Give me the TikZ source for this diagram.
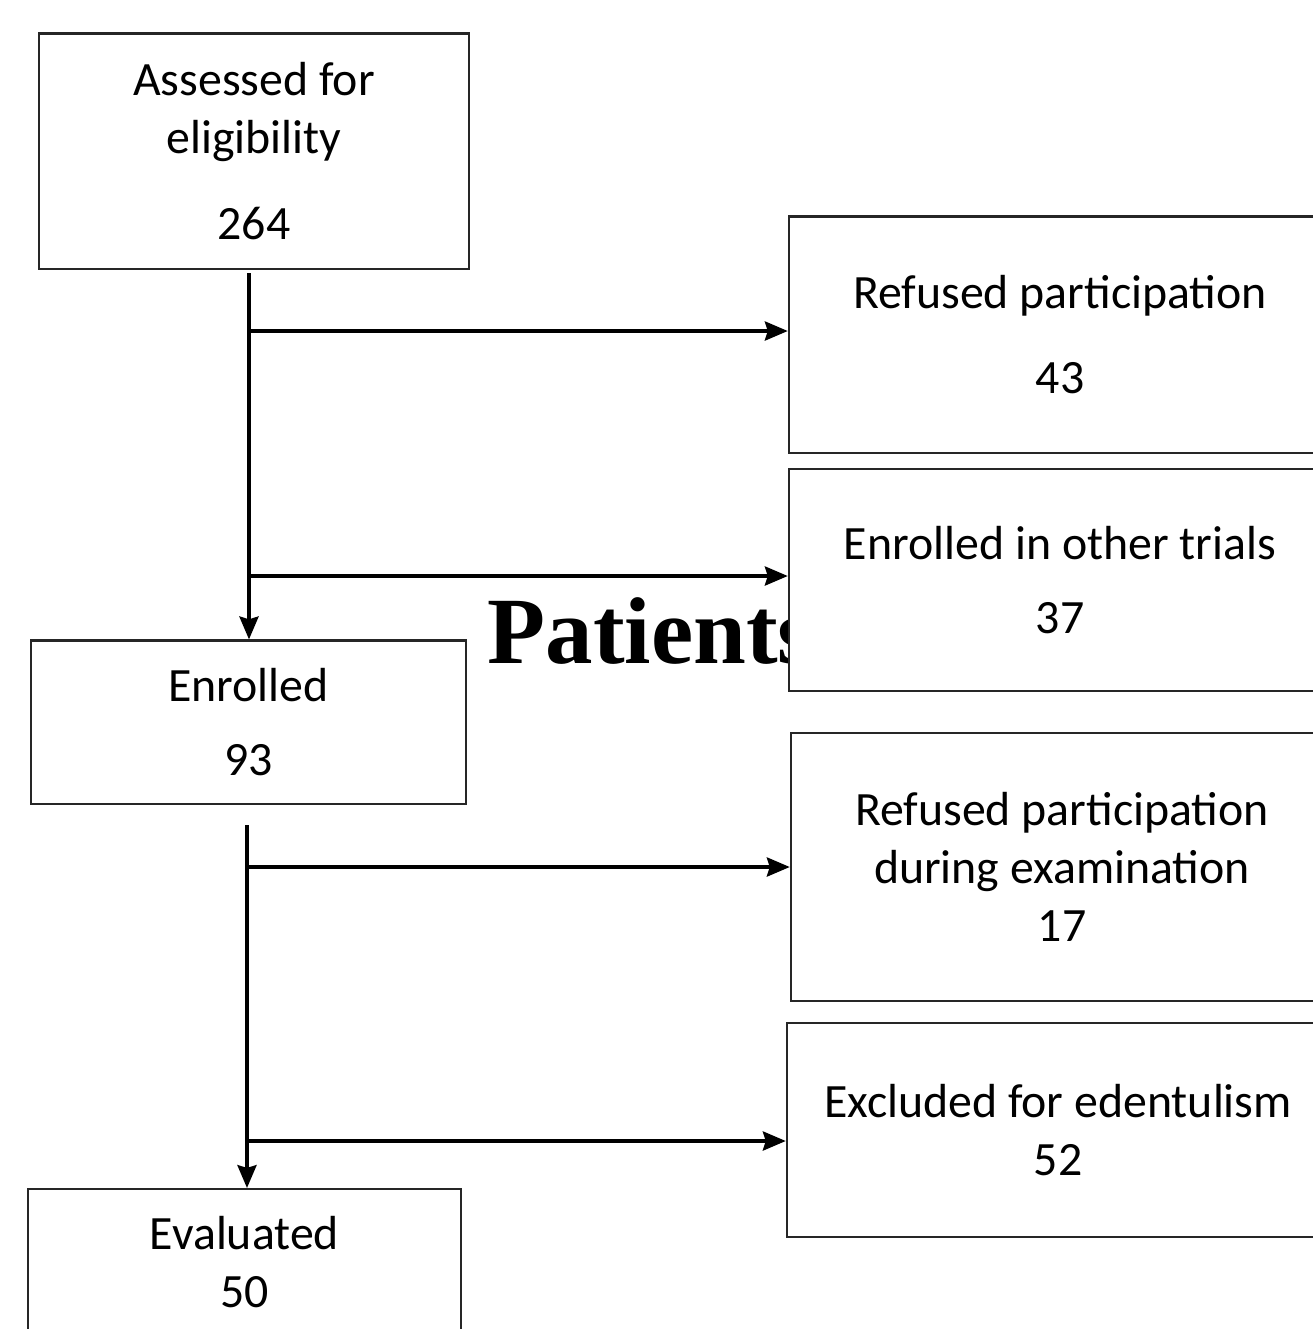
\documentclass[tikz,border=0pt]{standalone}
\usepackage{fontspec}
\setmainfont{Carlito}
\newfontfamily\titlefont{Liberation Serif}
\usepackage{tikz}
\usetikzlibrary{positioning,arrows.meta}

\tikzset{
  every box/.style={draw=black!85, line width=0.6pt, fill=white, align=center,
    inner sep=0pt, font=\fontsize{13.6}{16.5}\selectfont},
  flow/.style={line width=1.05pt, -{Stealth[length=6.5pt,width=5.4pt,inset=0.8pt]}},
}

\begin{document}
\begin{tikzpicture}[x=0.01cm, y=-0.01cm]

\useasboundingbox (0,0) rectangle (1313,1329);
\clip (0,0) rectangle (1313,1329);

% title sits behind the boxes
\node [anchor=base west, inner sep=0pt, font=\titlefont\bfseries\fontsize{27}{30}\selectfont] (title) at (487,663) {Patients};

% left column
\node [every box, minimum width=4.30cm, minimum height=2.35cm] (assessed) at (254,151)
  {Assessed for\\eligibility\\[7.7pt]264};
\node [every box, minimum width=4.35cm, minimum height=1.63cm] (enrolled) at (248.5,722)
  {Enrolled\\[4.8pt]93};
\node [every box, minimum width=4.33cm, anchor=north, text depth=1.9cm] (evaluated) at (244.5,1188)
  {\rule{0pt}{0.60cm}Evaluated\\50};

% right column
\node [every box, minimum width=5.42cm, minimum height=2.36cm] (refused) at (1060,334.5)
  {Refused participation\\[7.7pt]43};
\node [every box, minimum width=5.42cm, minimum height=2.22cm] (othertrials) at (1060,580)
  {Enrolled in other trials\\[4.8pt]37};
\node [every box, minimum width=5.42cm, minimum height=2.67cm] (duringexam) at (1062,867)
  {Refused participation\\during examination\\17};
\node [every box, minimum width=5.42cm, minimum height=2.14cm] (edentulism) at (1058,1130)
  {Excluded for edentulism\\52};

% spines
\coordinate (spine1) at (249,273);
\coordinate (spine2) at (247,825);

\draw [flow] (spine1) -- (spine1 |- enrolled.north);
\draw [flow] (spine2) -- (spine2 |- evaluated.north);

% where the branches meet the boxes
\foreach \b/\y in {refused/331,othertrials/576,duringexam/867,edentulism/1141}
  \coordinate (\b-in) at (\b.west |- 0,\y);

\foreach \b in {refused,othertrials}
  \draw [flow] (spine1 |- \b-in) -- (\b-in);

\foreach \b in {duringexam,edentulism}
  \draw [flow] (spine2 |- \b-in) -- (\b-in);

\end{tikzpicture}
\end{document}
